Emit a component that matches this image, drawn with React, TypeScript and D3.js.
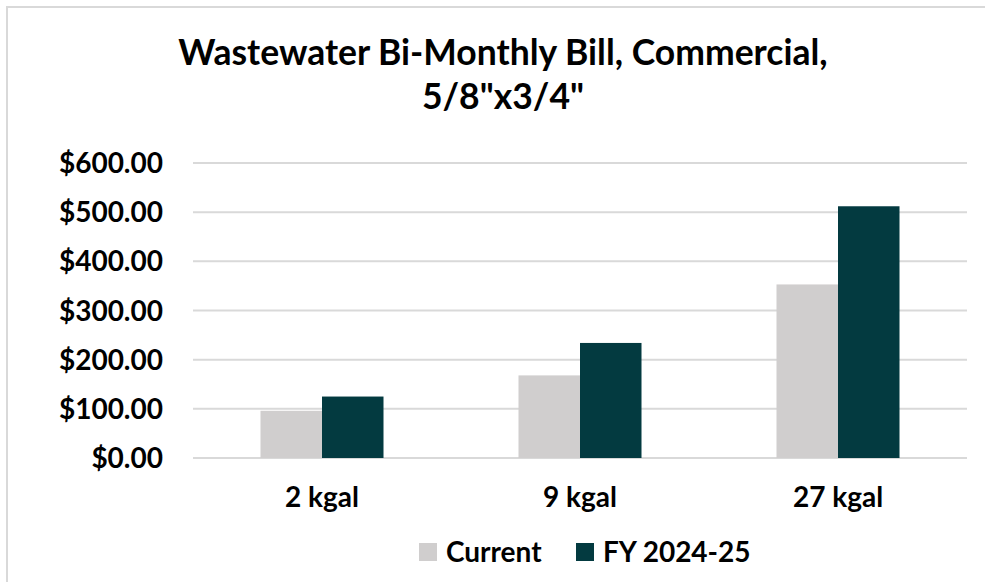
import React from 'react';
import * as d3 from 'd3';

const categories = ['2 kgal', '9 kgal', '27 kgal'];
const seriesNames = ['Current', 'FY 2024-25'];
const currentValues = [96, 168, 353];
const fyValues = [125, 234, 512];
const yTicks = [0, 100, 200, 300, 400, 500, 600];
const titleLines = ['Wastewater Bi-Monthly Bill, Commercial,', '5/8"x3/4"'];

const colors = ['#D0CECE', '#033A40'];
const font = 'Lato, "Open Sans", sans-serif';

export default function App() {
  const width = 985,
    height = 582;
  const left = 193,
    right = 967,
    top = 163,
    bottom = 458;

  const x = d3.scaleBand().domain(categories).range([left, right]).paddingInner(0).paddingOuter(0);
  const y = d3.scaleLinear().domain([0, 600]).range([bottom, top]);

  const barW = 61.5;
  const series = [currentValues, fyValues];
  const fmt = (v: number) => '$' + d3.format(',.2f')(v);

  return (
    <svg
      width={width}
      height={height}
      style={{ position: 'absolute', left: 0, top: 0, background: '#fff' }}
      fontFamily={font}
    >
      <rect x={7} y={7} width={1000} height={600} fill="#fff" stroke="#D9D9D9" strokeWidth={2} />

      {titleLines.map((t, i) => (
        <text key={t} x={503} y={65 + i * 44} textAnchor="middle" fontSize={35.5} fontWeight={700} fill="#000">
          {t}
        </text>
      ))}

      {yTicks.map((t) => (
        <g key={t}>
          <line x1={left} x2={right} y1={y(t)} y2={y(t)} stroke="#D9D9D9" strokeWidth={2} />
          <text x={163} y={y(t) + 10} textAnchor="end" fontSize={28} fontWeight={700} fill="#000">
            {fmt(t)}
          </text>
        </g>
      ))}

      {categories.map((c, ci) => {
        const cx = (x(c) as number) + x.bandwidth() / 2;
        return (
          <g key={c}>
            {series.map((vals, si) => (
              <rect
                key={si}
                x={cx - barW + si * barW}
                y={y(vals[ci])}
                width={barW}
                height={y(0) - y(vals[ci])}
                fill={colors[si]}
              />
            ))}
            <text x={cx} y={507} textAnchor="middle" fontSize={28} fontWeight={700} fill="#000">
              {c}
            </text>
          </g>
        );
      })}

      <g>
        <rect x={419} y={543} width={18} height={18} fill={colors[0]} />
        <text x={446} y={562} fontSize={28} fontWeight={700} fill="#000">
          {seriesNames[0]}
        </text>
        <rect x={576} y={543} width={18} height={18} fill={colors[1]} />
        <text x={603} y={562} fontSize={28} fontWeight={700} fill="#000">
          {seriesNames[1]}
        </text>
      </g>
    </svg>
  );
}
